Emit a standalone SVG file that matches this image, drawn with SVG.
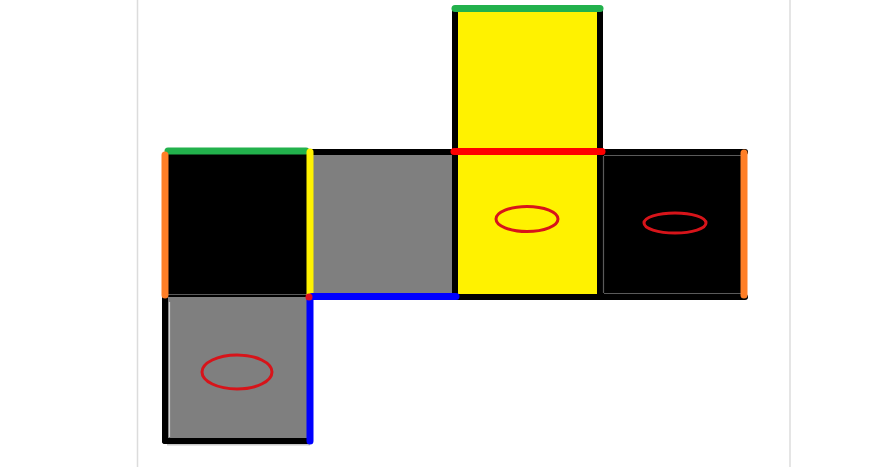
<svg xmlns="http://www.w3.org/2000/svg" width="893" height="467" viewBox="0 0 893 467">
<style>
.blk{stroke:#000;stroke-width:6;stroke-linecap:round;fill:none}
.edge{stroke-width:7;stroke-linecap:round;fill:none}
.ell{fill:none;stroke:#d7141a;stroke-width:3}
.thin{stroke:#5a5a5a;stroke-width:1.2;fill:none}
</style>
<rect width="893" height="467" fill="#fff"/>
<line x1="137.5" y1="0" x2="137.5" y2="467" stroke="#dcdcdc" stroke-width="1.5"/>
<line x1="790" y1="0" x2="790" y2="467" stroke="#dcdcdc" stroke-width="1.5"/>
<g id="face-top">
<rect x="455" y="9" width="145" height="143" fill="#fff200"/>
<line class="blk" x1="455" y1="9" x2="455" y2="152"/>
<line class="blk" x1="600" y1="9" x2="600" y2="152"/>
</g>
<g id="face-left">
<rect x="165" y="152" width="145" height="145" fill="#000"/>
<line class="thin" x1="168" y1="294.5" x2="307" y2="294.5"/>
</g>
<g id="face-gray">
<rect x="310" y="152" width="146" height="145" fill="#7f7f7f"/>
<line class="blk" x1="310" y1="152" x2="456" y2="152"/>
</g>
<g id="face-front">
<rect x="455" y="152" width="145" height="145" fill="#fff200"/>
<line class="blk" x1="455" y1="152" x2="455" y2="297"/>
<line class="blk" x1="600" y1="152" x2="600" y2="297"/>
<line class="blk" x1="455" y1="297" x2="600" y2="297"/>
<ellipse class="ell" cx="527" cy="219" rx="31" ry="12.5"/>
</g>
<g id="face-right">
<rect x="600" y="152" width="145" height="145" fill="#000"/>
<line class="blk" x1="600" y1="152" x2="745" y2="152"/>
<line class="blk" x1="600" y1="297" x2="745" y2="297"/>
<line class="thin" x1="604" y1="155.5" x2="741" y2="155.5"/>
<line class="thin" x1="604" y1="293.5" x2="741" y2="293.5"/>
<line class="thin" x1="603.5" y1="156" x2="603.5" y2="293"/>
<ellipse class="ell" cx="675" cy="223" rx="31" ry="10"/>
</g>
<g id="face-bottom">
<rect x="165" y="297" width="145" height="145" fill="#7f7f7f"/>
<line x1="167" y1="444.5" x2="310" y2="444.5" stroke="#c8c8c8" stroke-width="2"/>
<line class="blk" x1="165" y1="297" x2="165" y2="441"/>
<line class="blk" x1="165" y1="441" x2="310" y2="441"/>
<line x1="169.5" y1="302" x2="169.5" y2="437" stroke="#d0d0d0" stroke-width="1.2"/>
<ellipse class="ell" cx="237" cy="372" rx="35" ry="17"/>
</g>
<g id="edges">
<line class="edge" stroke="#22b14c" x1="455" y1="8.5" x2="600" y2="8.5"/>
<line class="edge" stroke="#22b14c" x1="168" y1="151" x2="306" y2="151"/>
<line class="edge" stroke="#ff7f27" x1="165" y1="155" x2="165" y2="295"/>
<line class="edge" stroke="#fff200" x1="310" y1="152" x2="310" y2="294"/>
<line class="edge" stroke="#ff0000" x1="454" y1="151.5" x2="602" y2="151.5"/>
<line class="edge" stroke="#0000ff" x1="312" y1="296.5" x2="456" y2="296.5"/>
<line class="edge" stroke="#0000ff" x1="310" y1="299" x2="310" y2="441"/>
<line class="edge" stroke="#ff7f27" x1="744" y1="153" x2="744" y2="295"/>
<circle cx="309" cy="297" r="3.5" fill="#e01020"/>
</g>
</svg>
